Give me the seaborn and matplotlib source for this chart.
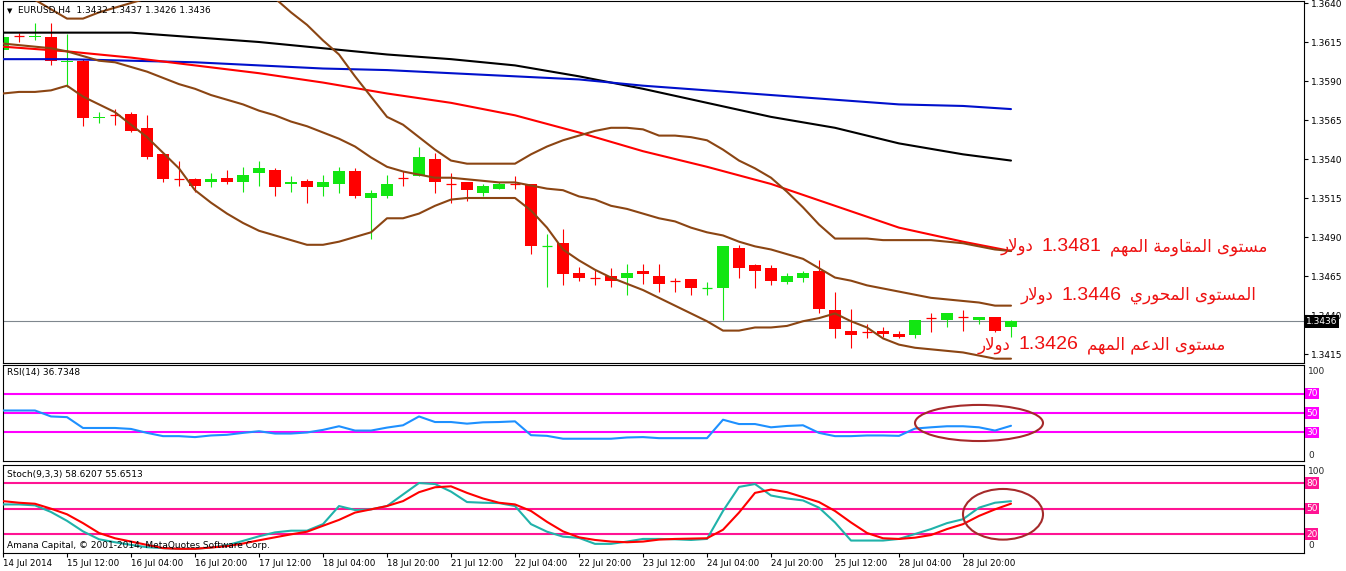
import matplotlib
matplotlib.use("Agg")
import matplotlib.pyplot as plt
import matplotlib.transforms as mtransforms
from matplotlib.patches import Ellipse
from matplotlib.offsetbox import TextArea, HPacker, AnnotationBbox
import pandas as pd
import seaborn as sns

# ---------------- data ----------------
bar_index = list(range(64))
date_label_bars = [0, 4, 8, 12, 16, 20, 24, 28, 32, 36, 40, 44, 48, 52, 56, 60]
date_labels = ["14 Jul 2014", "15 Jul 12:00", "16 Jul 04:00", "16 Jul 20:00",
               "17 Jul 12:00", "18 Jul 04:00", "18 Jul 20:00", "21 Jul 12:00",
               "22 Jul 04:00", "22 Jul 20:00", "23 Jul 12:00", "24 Jul 04:00",
               "24 Jul 20:00", "25 Jul 12:00", "28 Jul 04:00", "28 Jul 20:00"]

opens = [1.3610, 1.3619, 1.3618, 1.3618, 1.3602, 1.3603, 1.3566, 1.3568, 1.3569, 1.3560,
         1.3543, 1.3527, 1.3527, 1.3525, 1.3528, 1.3525, 1.3531, 1.3533, 1.3524, 1.3526,
         1.3522, 1.3524, 1.3532, 1.3515, 1.3516, 1.3528, 1.3529, 1.3540, 1.3524, 1.3525,
         1.3518, 1.3521, 1.3524, 1.3524, 1.3484, 1.3486, 1.3467, 1.3464, 1.3465, 1.3464,
         1.3468, 1.3465, 1.3462, 1.3463, 1.3457, 1.3457, 1.3483, 1.3472, 1.3470, 1.3461,
         1.3464, 1.3468, 1.3443, 1.3430, 1.3429, 1.3430, 1.3428, 1.3427, 1.3438, 1.3437,
         1.3439, 1.3437, 1.3439, 1.3432]
highs = [1.3621, 1.3621, 1.3627, 1.3627, 1.3620, 1.3604, 1.3570, 1.3572, 1.3570, 1.3568,
         1.3544, 1.3539, 1.3528, 1.3531, 1.3533, 1.3535, 1.3539, 1.3534, 1.3529, 1.3527,
         1.3530, 1.3535, 1.3534, 1.3520, 1.3530, 1.3532, 1.3548, 1.3544, 1.3531, 1.3525,
         1.3524, 1.3525, 1.3529, 1.3524, 1.3492, 1.3495, 1.3471, 1.3469, 1.3470, 1.3473,
         1.3473, 1.3473, 1.3464, 1.3463, 1.3461, 1.3484, 1.3485, 1.3473, 1.3472, 1.3467,
         1.3468, 1.3475, 1.3455, 1.3444, 1.3434, 1.3432, 1.3430, 1.3437, 1.3441, 1.3441,
         1.3443, 1.3439, 1.3439, 1.3437]
lows = [1.3608, 1.3615, 1.3616, 1.3600, 1.3586, 1.3561, 1.3563, 1.3562, 1.3557, 1.3540,
        1.3525, 1.3523, 1.3519, 1.3522, 1.3524, 1.3519, 1.3523, 1.3516, 1.3519, 1.3512,
        1.3516, 1.3518, 1.3515, 1.3489, 1.3515, 1.3523, 1.3529, 1.3518, 1.3512, 1.3513,
        1.3516, 1.3521, 1.3521, 1.3479, 1.3458, 1.3459, 1.3462, 1.3459, 1.3458, 1.3453,
        1.3460, 1.3455, 1.3455, 1.3453, 1.3453, 1.3437, 1.3464, 1.3457, 1.3459, 1.3460,
        1.3461, 1.3441, 1.3425, 1.3419, 1.3425, 1.3426, 1.3425, 1.3425, 1.3429, 1.3432,
        1.3430, 1.3434, 1.3429, 1.3426]
closes = [1.3618, 1.3619, 1.3619, 1.3603, 1.3603, 1.3566, 1.3567, 1.3568, 1.3558, 1.3541,
          1.3527, 1.3527, 1.3523, 1.3527, 1.3525, 1.3530, 1.3534, 1.3522, 1.3525, 1.3522,
          1.3525, 1.3532, 1.3516, 1.3518, 1.3524, 1.3528, 1.3541, 1.3525, 1.3524, 1.3520,
          1.3523, 1.3524, 1.3524, 1.3484, 1.34845, 1.3466, 1.3464, 1.3464, 1.3462, 1.3467,
          1.3466, 1.3460, 1.3462, 1.3457, 1.34575, 1.3484, 1.3470, 1.3468, 1.3462, 1.3465,
          1.3467, 1.3444, 1.3431, 1.3427, 1.3429, 1.3428, 1.3426, 1.3437, 1.3438, 1.3441,
          1.3439, 1.3439, 1.3430, 1.3436]

ma_bars = [0, 4, 8, 12, 16, 20, 24, 28, 32, 36, 40, 44, 48, 52, 56, 60, 63]
ma_black = [1.3621, 1.3621, 1.3621, 1.3618, 1.3615, 1.3611, 1.3607, 1.3604, 1.3600,
            1.3593, 1.3585, 1.3576, 1.3567, 1.3560, 1.3550, 1.3543, 1.3539]
ma_blue = [1.3604, 1.3604, 1.3603, 1.3602, 1.3600, 1.3598, 1.3597, 1.3595, 1.3593,
           1.3591, 1.3587, 1.3584, 1.3581, 1.3578, 1.3575, 1.3574, 1.3572]
ma_red = [1.3612, 1.3609, 1.3605, 1.3600, 1.3595, 1.3589, 1.3582, 1.3576, 1.3568,
          1.3557, 1.3545, 1.3535, 1.3524, 1.3510, 1.3496, 1.3487, 1.3481]

bb_upper = [1.3655, 1.3647, 1.3642, 1.3636, 1.3630, 1.3630, 1.3634, 1.3637, 1.3640, 1.3643,
            1.3648, 1.3652, 1.3655, 1.3656, 1.3655, 1.3652, 1.3648, 1.3643, 1.3634, 1.3626,
            1.3616, 1.3607, 1.3593, 1.3580, 1.3567, 1.3562, 1.3554, 1.3546, 1.3539, 1.3537,
            1.3537, 1.3537, 1.3537, 1.3543, 1.3548, 1.3552, 1.3555, 1.3558, 1.3560, 1.3560,
            1.3559, 1.3555, 1.3555, 1.3554, 1.3552, 1.3546, 1.3539, 1.3534, 1.3528, 1.3519,
            1.3509, 1.3498, 1.3489, 1.3489, 1.3489, 1.3488, 1.3488, 1.3488, 1.3488, 1.3487,
            1.3486, 1.3484, 1.3482, 1.3481]
bb_middle = [1.3614, 1.3613, 1.3612, 1.3611, 1.3609, 1.3606, 1.3603, 1.3602, 1.3599, 1.3596,
             1.3592, 1.3588, 1.3585, 1.3581, 1.3578, 1.3575, 1.3571, 1.3568, 1.3564, 1.3561,
             1.3557, 1.3553, 1.3548, 1.3541, 1.3535, 1.3532, 1.3530, 1.3528, 1.3528, 1.3527,
             1.3526, 1.3525, 1.3525, 1.3523, 1.3521, 1.3520, 1.3516, 1.3514, 1.3510, 1.3508,
             1.3505, 1.3502, 1.3500, 1.3496, 1.3493, 1.3491, 1.3487, 1.3484, 1.3482, 1.3479,
             1.3476, 1.3470, 1.3464, 1.3462, 1.3459, 1.3457, 1.3455, 1.3453, 1.3451, 1.3450,
             1.3449, 1.3448, 1.3446, 1.3446]
bb_lower = [1.3582, 1.3583, 1.3583, 1.3584, 1.3587, 1.3580, 1.3575, 1.3570, 1.3562, 1.3554,
            1.3544, 1.3534, 1.3520, 1.3512, 1.3505, 1.3499, 1.3494, 1.3491, 1.3488, 1.3485,
            1.3485, 1.3487, 1.3490, 1.3493, 1.3502, 1.3502, 1.3505, 1.3510, 1.3514, 1.3515,
            1.3515, 1.3515, 1.3515, 1.3507, 1.3496, 1.3482, 1.3475, 1.3469, 1.3464, 1.3460,
            1.3456, 1.3451, 1.3446, 1.3441, 1.3436, 1.3430, 1.3430, 1.3432, 1.3432, 1.3433,
            1.3436, 1.3438, 1.3441, 1.3436, 1.3432, 1.3425, 1.3421, 1.3419, 1.3418, 1.3417,
            1.3416, 1.3414, 1.3412, 1.3412]

rsi = [52.6, 52.6, 52.6, 46.4, 45.7, 34.4, 34.4, 34.4, 33.4, 29.3,
       25.9, 25.9, 24.9, 26.6, 27.3, 29.3, 31.0, 28.6, 28.6, 29.7,
       32.4, 36.2, 31.7, 31.7, 34.8, 37.2, 46.4, 40.6, 40.6, 38.9,
       40.3, 40.6, 41.3, 26.9, 26.2, 23.2, 23.2, 23.2, 23.2, 24.5,
       24.9, 23.8, 23.8, 23.8, 23.8, 43.0, 38.5, 38.5, 35.1, 36.5,
       37.2, 29.3, 25.9, 25.9, 26.6, 26.6, 26.2, 33.8, 35.1, 36.2,
       36.2, 35.1, 31.7, 36.7]
stoch_main = [54.8, 54.8, 53.7, 45.9, 35.5, 23.1, 13.8, 10.3, 7.2, 4.5,
              3.4, 2.6, 2.6, 4.1, 6.8, 11.9, 17.3, 21.9, 23.9, 23.9,
              31.6, 52.9, 48.3, 49.0, 52.9, 66.5, 80.0, 78.8, 69.9, 57.6,
              56.8, 56.4, 52.9, 31.6, 22.7, 16.9, 15.4, 8.4, 8.4, 11.1,
              14.2, 14.2, 13.8, 13.0, 14.2, 47.1, 75.4, 78.8, 65.3, 61.8,
              59.5, 51.0, 33.6, 12.3, 12.3, 12.3, 14.2, 20.0, 25.8, 32.8,
              37.4, 51.0, 56.8, 58.6]
stoch_signal = [58.7, 56.8, 55.6, 49.8, 43.2, 32.8, 21.2, 15.0, 11.1, 7.2,
                3.4, 2.6, 2.6, 4.1, 5.7, 8.8, 12.6, 16.1, 19.6, 22.7,
                29.7, 36.6, 45.2, 49.0, 52.9, 58.7, 69.2, 75.0, 76.1, 68.4,
                61.8, 56.8, 54.8, 47.1, 34.3, 23.1, 16.1, 13.0, 11.1, 10.3,
                11.1, 13.4, 14.2, 14.6, 15.0, 25.0, 45.2, 68.4, 72.3, 69.2,
                63.4, 57.6, 47.1, 33.6, 21.2, 15.0, 14.2, 15.7, 18.8, 25.8,
                31.6, 41.3, 49.0, 55.7]

price_ticks = [1.3415, 1.3440, 1.3465, 1.3490, 1.3515, 1.3540, 1.3565, 1.3590, 1.3615, 1.3640]
rsi_levels = [70, 50, 30]
stoch_levels = [80, 50, 20]
last_price = 1.3436

title_text = "EURUSD,H4  1.3432 1.3437 1.3426 1.3436"
rsi_title = "RSI(14) 36.7348"
stoch_title = "Stoch(9,3,3) 58.6207 55.6513"
copyright_text = "Amana Capital, \u00a9 2001-2014, MetaQuotes Software Corp."
level_texts = ["مستوى المقاومة المهم 1.3481 دولار",
               "المستوى المحوري 1.3446 دولار",
               "مستوى الدعم المهم 1.3426 دولار"]
level_prices = [1.3484, 1.3453, 1.3421]

# ---------------- Arabic shaping (presentation forms, visual order) ----------------
FORMS = {
    '\u0627': ('\uFE8D', '\uFE8E', None, None),
    '\u0629': ('\uFE93', '\uFE94', None, None),
    '\u062A': ('\uFE95', '\uFE96', '\uFE97', '\uFE98'),
    '\u062D': ('\uFEA1', '\uFEA2', '\uFEA3', '\uFEA4'),
    '\u062F': ('\uFEA9', '\uFEAA', None, None),
    '\u0631': ('\uFEAD', '\uFEAE', None, None),
    '\u0633': ('\uFEB1', '\uFEB2', '\uFEB3', '\uFEB4'),
    '\u0639': ('\uFEC9', '\uFECA', '\uFECB', '\uFECC'),
    '\u0642': ('\uFED5', '\uFED6', '\uFED7', '\uFED8'),
    '\u0644': ('\uFEDD', '\uFEDE', '\uFEDF', '\uFEE0'),
    '\u0645': ('\uFEE1', '\uFEE2', '\uFEE3', '\uFEE4'),
    '\u0647': ('\uFEE9', '\uFEEA', '\uFEEB', '\uFEEC'),
    '\u0648': ('\uFEED', '\uFEEE', None, None),
    '\u0649': ('\uFEEF', '\uFEF0', None, None),
    '\u064A': ('\uFEF1', '\uFEF2', '\uFEF3', '\uFEF4'),
    'LA': ('\uFEFB', '\uFEFC', None, None),
}


def is_arabic(t):
    return any('\u0600' <= ch <= '\u06FF' for ch in t)


def shape_word(w):
    chars, i = [], 0
    while i < len(w):
        if w[i] == '\u0644' and i + 1 < len(w) and w[i + 1] == '\u0627':
            chars.append('LA'); i += 2
        else:
            chars.append(w[i]); i += 1
    out = []
    for j, c in enumerate(chars):
        f = FORMS.get(c)
        if f is None:
            out.append(c); continue
        prev = chars[j - 1] if j > 0 else None
        nxt = chars[j + 1] if j + 1 < len(chars) else None
        jp = prev in FORMS and FORMS[prev][2] is not None
        jn = f[2] is not None and nxt in FORMS
        out.append(f[3] if (jp and jn) else f[1] if jp else f[2] if jn else f[0])
    return ''.join(reversed(out))


def visual_runs(s):
    """Split into left-to-right display runs: (text, is_arabic)."""
    toks = list(reversed(s.split(' ')))
    runs = []
    for t in toks:
        ar = is_arabic(t)
        disp = shape_word(t) if ar else t
        if runs and runs[-1][1] == ar:
            runs[-1] = (runs[-1][0] + ' ' + disp, ar)
        else:
            runs.append((disp, ar))
    return runs


# ---------------- style ----------------
sns.set_theme(style="white")
plt.rcParams['font.family'] = ['DejaVu Sans']
plt.rcParams['axes.linewidth'] = 0.8

W, H = 1346, 571
fig = plt.figure(figsize=(W / 100, H / 100), dpi=100)
fig.patch.set_facecolor('white')


def px_axes(x0, y0, x1, y1):
    return fig.add_axes([x0 / W, 1 - y1 / H, (x1 - x0) / W, (y1 - y0) / H])


ax = px_axes(3, 1, 1304, 363)
ax_rsi = px_axes(3, 365, 1304, 461)
ax_st = px_axes(3, 465, 1304, 553)

XMAX = (1304 - 3) / 16.0
for a in (ax, ax_rsi, ax_st):
    a.set_xlim(0, XMAX)
    a.set_facecolor('white')
    for sp in a.spines.values():
        sp.set_color('black')
        sp.set_linewidth(0.8)
    a.grid(False)

ax.set_ylim(1.3640 - 360 / 15600, 1.3640 + 2 / 15600)
ax_rsi.set_ylim(0, 100)
ax_st.set_ylim(-2.35, 101.2)

BULL, BEAR = '#12E612', '#FF0000'

# ---------------- candles ----------------
for k in bar_index:
    o, h, l, c = opens[k], highs[k], lows[k], closes[k]
    col = BULL if c > o else BEAR
    ax.vlines(k, l, h, color=col, lw=0.8, zorder=2)
    if abs(c - o) < 0.00006:
        ax.hlines(c, k - 0.34, k + 0.34, color=col, lw=0.9, zorder=2)
    else:
        ax.bar(k, abs(c - o), bottom=min(o, c), width=0.69, color=col,
               linewidth=0, zorder=2)

# current price line
ax.axhline(last_price, color='#7f878e', lw=0.8, zorder=1)

# ---------------- indicator lines ----------------
LW = 1.5
sns.lineplot(x=ma_bars, y=ma_black, ax=ax, color='black', lw=LW, sort=False, zorder=3)
sns.lineplot(x=ma_bars, y=ma_blue, ax=ax, color='#0010CC', lw=LW, sort=False, zorder=3)
sns.lineplot(x=ma_bars, y=ma_red, ax=ax, color='#FF0000', lw=LW, sort=False, zorder=3)
brown = '#8B4513'
for band in (bb_upper, bb_middle, bb_lower):
    sns.lineplot(x=bar_index, y=band, ax=ax, color=brown, lw=LW, sort=False, zorder=3)

# ---------------- price axis ----------------
ax.yaxis.tick_right()
ax.set_yticks(price_ticks)
ax.set_yticklabels([f"{v:.4f}" for v in price_ticks])
ax.tick_params(axis='y', right=True, left=False, length=3, width=0.8, pad=2,
               labelsize=6.5, colors='black', direction='out')
ax.set_xticks([])
ax.set_xlabel(''); ax.set_ylabel('')
trans_main = mtransforms.blended_transform_factory(ax.transAxes, ax.transData)
ax.text(1.0012, last_price, f"{last_price:.4f}", transform=trans_main, ha='left',
        va='center', fontsize=6.5, color='white', zorder=10, clip_on=False,
        bbox=dict(boxstyle='square,pad=0.2', fc='black', ec='none'))

# Arabic annotations: digits in Liberation Sans, Arabic words in DejaVu Sans
TXT_RED = '#EE1111'
text_right = [79.0, 78.3, 76.4]
for s, p, xr in zip(level_texts, level_prices, text_right):
    areas = []
    for run, ar in visual_runs(s):
        if ar:
            props = dict(color=TXT_RED, fontsize=12, family=['DejaVu Sans'])
        else:
            props = dict(color=TXT_RED, fontsize=14, family=['Liberation Sans', 'DejaVu Sans'])
        areas.append(TextArea(run, textprops=props))
    pack = HPacker(children=areas, align='baseline', pad=0, sep=6)
    ab = AnnotationBbox(pack, (xr, p), xycoords='data', box_alignment=(1, 0.5),
                        frameon=False, pad=0, zorder=6, annotation_clip=False)
    ax.add_artist(ab)

# ---------------- RSI ----------------
for lv in rsi_levels:
    ax_rsi.axhline(lv, color='#FF00FF', lw=1.5, zorder=1)
sns.lineplot(x=bar_index, y=rsi, ax=ax_rsi, color='#1E90FF', lw=LW, sort=False, zorder=3)
ax_rsi.set_xticks([]); ax_rsi.set_yticks([])
ax_rsi.set_xlabel(''); ax_rsi.set_ylabel('')
tr = mtransforms.blended_transform_factory(ax_rsi.transAxes, ax_rsi.transData)
ax_rsi.text(1.003, 93, "100", transform=tr, fontsize=6.5, va='center', ha='left', clip_on=False)
ax_rsi.text(1.003, 6, "0", transform=tr, fontsize=6.5, va='center', ha='left', clip_on=False)
for lv in rsi_levels:
    ax_rsi.text(1.0015, lv, f"{lv}", transform=tr, fontsize=6.5, va='center', ha='left',
                color='white', clip_on=False,
                bbox=dict(boxstyle='square,pad=0.12', fc='#FF00FF', ec='none'))
ax_rsi.add_patch(Ellipse((61, 39.6), 8, 37.6, fill=False, ec='#A52A2A', lw=1.5,
                         zorder=5, clip_on=False))

# ---------------- Stochastic ----------------
for lv in stoch_levels:
    ax_st.axhline(lv, color='#FF1493', lw=1.5, zorder=1)
sns.lineplot(x=bar_index, y=stoch_main, ax=ax_st, color='#20B2AA', lw=LW, sort=False, zorder=3)
sns.lineplot(x=bar_index, y=stoch_signal, ax=ax_st, color='#FF0000', lw=LW, sort=False, zorder=4)
ax_st.set_yticks([])
ax_st.set_xlabel(''); ax_st.set_ylabel('')
ts = mtransforms.blended_transform_factory(ax_st.transAxes, ax_st.transData)
ax_st.text(1.003, 93.5, "100", transform=ts, fontsize=6.5, va='center', ha='left', clip_on=False)
ax_st.text(1.003, 6.5, "0", transform=ts, fontsize=6.5, va='center', ha='left', clip_on=False)
for lv in stoch_levels:
    ax_st.text(1.0015, lv, f"{lv}", transform=ts, fontsize=6.5, va='center', ha='left',
               color='white', clip_on=False,
               bbox=dict(boxstyle='square,pad=0.12', fc='#FF1493', ec='none'))
ax_st.add_patch(Ellipse((62.5, 43.2), 5, 59.6, fill=False, ec='#A52A2A', lw=1.5,
                        zorder=5, clip_on=False))
ax_st.set_xticks(date_label_bars)
ax_st.set_xticklabels(date_labels, ha='left', fontsize=6.3)
ax_st.tick_params(axis='x', bottom=True, length=3, width=0.8, pad=1, colors='black',
                  direction='out')

# ---------------- panel captions ----------------
def ftext(x, y, s, **kw):
    fig.text(x / W, 1 - y / H, s, va='center', ha='left', color='black', **kw)

ftext(7, 11, "\u25BC", fontsize=5)
ftext(18, 11, title_text, fontsize=6.5)
ftext(7, 373, rsi_title, fontsize=6.5)
ftext(7, 474, stoch_title, fontsize=6.5)
ftext(7, 546, copyright_text, fontsize=6.5)

fig.savefig("out.png", dpi=100)
